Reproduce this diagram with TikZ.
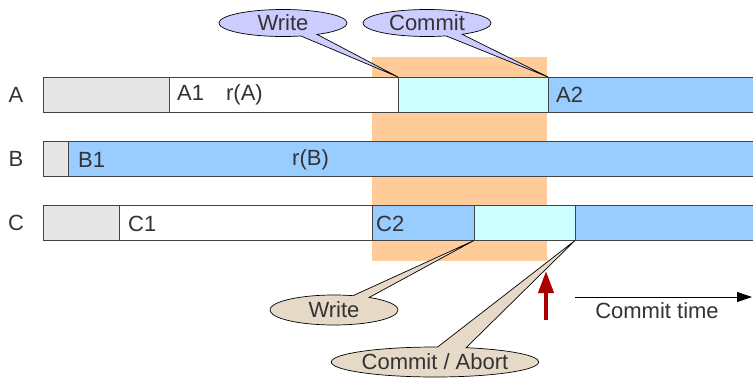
\documentclass[tikz,border=0pt]{standalone}
\usepackage{fontspec}
\setmainfont{Liberation Sans}
\usetikzlibrary{shapes.callouts,arrows.meta}
\definecolor{txtgray}{HTML}{333333}
\definecolor{edgegray}{HTML}{444444}
\definecolor{idlegray}{HTML}{E6E6E6}
\definecolor{runblue}{HTML}{99CCFF}
\definecolor{pendcyan}{HTML}{CCFFFF}
\definecolor{bandorange}{HTML}{FFCC99}
\definecolor{calloutlav}{HTML}{CCCCFF}
\definecolor{callouttan}{HTML}{E6D9C8}
\definecolor{arrowred}{HTML}{AA0000}
\tikzset{
  txt/.style={font=\fontsize{22}{26}\selectfont, text=txtgray, inner sep=0pt},
  seg/.style={draw=edgegray, line width=0.8pt, anchor=west, inner sep=0pt, outer sep=0pt, minimum height=35pt},
  bubble/.style={ellipse callout, draw=black, line width=0.7pt, inner sep=0pt,
    minimum width=128pt, minimum height=27pt, callout pointer arc=16, txt},
}
\begin{document}
\begin{tikzpicture}[x=1pt, y=-1pt]
\useasboundingbox (0,0) rectangle (753,378);
\begin{scope}
\clip (0,0) rectangle (753,378);
% commit window
\node[fill=bandorange, inner sep=0pt, minimum width=175pt, minimum height=204pt, anchor=north west] (band) at (372,57) {};
% row A
\node[seg, fill=idlegray, minimum width=126pt] (aidle) at (43,94.5) {};
\node[seg, fill=white, minimum width=229pt] (arun) at (169,94.5) {};
\node[seg, fill=pendcyan, minimum width=150pt] (acyan) at (398,94.5) {};
\node[seg, fill=runblue, minimum width=220pt] (ablue) at (548,94.5) {};
% row B
\node[seg, fill=idlegray, minimum width=25pt] (bidle) at (43,159) {};
\node[seg, fill=runblue, minimum width=700pt] (bblue) at (68,159) {};
% row C
\node[seg, fill=idlegray, minimum width=76pt] (cidle) at (43,223) {};
\node[seg, fill=white, minimum width=253pt] (crun) at (119,223) {};
\node[seg, fill=runblue, minimum width=102pt] (cblue) at (372,223) {};
\node[seg, fill=pendcyan, minimum width=101pt] (ccyan) at (474,223) {};
\node[seg, fill=runblue, minimum width=200pt] (cend) at (575,223) {};
\end{scope}
% row labels
\node[txt] (lA) at (16,94.5) {A};
\node[txt] (lB) at (16,159) {B};
\node[txt] (lC) at (16,223) {C};
% segment texts
\node[txt, anchor=west] (tA1) at (177,95) {A1\hspace{22pt}r(A)};
\node[txt, anchor=west] (tA2) at (556,95) {A2};
\node[txt, anchor=west] (tB1) at (78,159.5) {B1};
\node[txt, anchor=west] (trB) at (292,159.5) {r(B)};
\node[txt, anchor=west] (tC1) at (128,223.5) {C1};
\node[txt, anchor=west] (tC2) at (376,223.5) {C2};
% callouts
\node[bubble, fill=calloutlav, callout absolute pointer={(acyan.north west)}] (wA) at (283,23) {Write};
\node[bubble, fill=calloutlav, callout absolute pointer={(acyan.north east)}] (cA) at (427,23) {Commit};
\node[bubble, fill=callouttan, minimum height=30pt, callout absolute pointer={(ccyan.south west)}] (wC) at (334,310) {Write};
\node[bubble, fill=callouttan, minimum width=176pt, minimum height=30pt, callout absolute pointer={(ccyan.south east)}] (cC) at (435,362) {Commit / Abort};
% commit point marker
\coordinate (redtail) at (546,320);
\coordinate (redhead) at (546,271);
\draw[arrowred, line width=4pt, -{Triangle[length=22pt, width=15pt]}] (redtail) -- (redhead);
% time axis
\coordinate (tstart) at (575,297);
\coordinate (tend) at (752,297);
\draw[black, line width=1pt, -{Triangle[length=15pt, width=10pt]}] (tstart) -- (tend);
\node[txt] (ttime) at (657,311) {Commit time};
\end{tikzpicture}
\end{document}
